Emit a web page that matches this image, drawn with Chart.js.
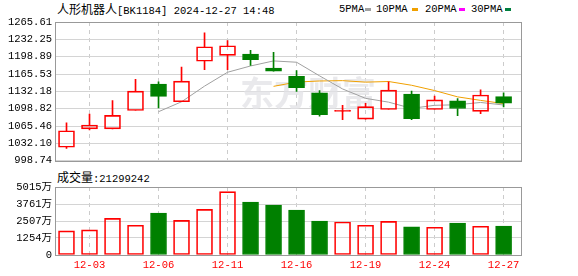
<!DOCTYPE html>
<html>
<head>
<meta charset="utf-8">
<script src="https://cdn.jsdelivr.net/npm/chart.js@4.4.1/dist/chart.umd.min.js"></script>
<style>
  body { margin:0; width:578px; height:276px; background:#fff; position:relative; overflow:hidden;
         font-family:"Liberation Mono","Noto Sans CJK SC",monospace; color:#000; }
  .txt { position:absolute; white-space:nowrap; font-size:10.5px; line-height:14px; }
  .cjk { font-family:"Noto Sans CJK SC"; font-size:12px; }
  .sw { position:absolute; width:6px; height:3px; top:8px; }
  #kline { position:absolute; left:0; top:0; }
  #vol { position:absolute; left:0; top:170px; }
</style>
</head>
<body>
<div class="txt" style="left:57px; top:2px;"><span class="cjk">人形机器人</span>[BK1184] 2024-12-27 14:48</div>
<div class="txt" style="left:339px; top:2px;">5PMA</div><div class="sw" style="left:365px; background:#a0a0a0;"></div>
<div class="txt" style="left:376px; top:2px;">10PMA</div><div class="sw" style="left:412px; background:#f0a000;"></div>
<div class="txt" style="left:425px; top:2px;">20PMA</div><div class="sw" style="left:459px; background:#ff00ff;"></div>
<div class="txt" style="left:471px; top:2px;">30PMA</div><div class="sw" style="left:505px; background:#007f3f;"></div>
<div class="txt" style="left:57px; top:170px;"><span class="cjk">成交量</span>:21299242</div>
<canvas id="kline" width="578" height="170"></canvas>
<canvas id="vol" width="578" height="106"></canvas>
<script>
const dates = ['12-02','12-03','12-04','12-05','12-06','12-09','12-10','12-11','12-12','12-13',
               '12-16','12-17','12-18','12-19','12-20','12-23','12-24','12-25','12-26','12-27'];
const openP  = [1024.7, 1060.1, 1060.1, 1095.4, 1146.1, 1112.1, 1190.1, 1201.3, 1203.7, 1177.1,
                1161.0, 1129.4, 1093.5, 1078.6, 1097.2, 1127.0, 1097.2, 1114.0, 1093.5, 1121.9];
const closeP = [1056.3, 1067.5, 1086.1, 1132.5, 1122.5, 1151.7, 1218.0, 1219.9, 1193.1, 1170.8,
                1139.2, 1087.2, 1093.5, 1102.8, 1134.4, 1079.8, 1115.8, 1099.1, 1125.1, 1109.5];
const highP  = [1071.8, 1088.5, 1114.5, 1155.4, 1150.4, 1179.0, 1244.6, 1229.7, 1211.2, 1207.4,
                1172.1, 1133.7, 1105.2, 1108.9, 1150.4, 1132.6, 1123.2, 1118.2, 1135.0, 1129.4];
const lowP   = [1022.2, 1058.2, 1060.1, 1095.4, 1100.2, 1112.1, 1174.0, 1174.0, 1182.0, 1170.8,
                1131.8, 1084.2, 1077.9, 1078.6, 1097.2, 1077.9, 1097.2, 1085.3, 1089.1, 1102.1];
const ma5  = [null, null, null, null, 1093.0, 1112.1, 1142.2, 1168.9, 1181.0, 1190.7,
              1188.2, 1162.0, 1136.8, 1118.7, 1111.4, 1099.5, 1105.3, 1106.4, 1110.8, 1105.9];
const ma10 = [null, null, null, null, null, null, null, null, null, 1141.8,
              1150.1, 1152.1, 1152.8, 1149.9, 1151.1, 1143.9, 1133.7, 1121.6, 1114.8, 1108.6];
const ma20 = [null, null, null, null, null, null, null, null, null, null,
              null, null, null, null, null, null, null, null, null, 1125.2];
// 成交量, 单位: 万
const volume = [1776, 1849, 2705, 2193, 3092, 2558, 3363, 4678, 3896, 3677,
                3311, 2507, 2434, 2193, 2485, 2069, 2047, 2361, 2120, 2130];
const priceTicks = [998.74, 1032.10, 1065.46, 1098.82, 1132.18, 1165.53, 1198.89, 1232.25, 1265.61];
const volTicks = [0, 1254, 2507, 3761, 5015];
const labelIdx = [1, 4, 7, 10, 13, 16, 19];

const RED = '#ff0000', GREEN = '#008000', CLEAR = 'rgba(255,255,255,0)';
const up = dates.map((d, i) => closeP[i] >= openP[i]);
const lineCol = up.map(u => u ? RED : GREEN);
// flat candle (doji) gets a solid red bar so the 1px body shows
const bodyFill = dates.map((d, i) => closeP[i] > openP[i] ? CLEAR : (closeP[i] === openP[i] ? RED : GREEN));
const volFill = up.map(u => u ? CLEAR : GREEN);
const tickFont = { family: '"Liberation Mono", "Noto Sans CJK SC", monospace', size: 10.5 };

const boxPlugin = {
    id: 'box',
    afterDraw(chart) {
        const { ctx, chartArea: a } = chart;
        ctx.save();
        ctx.strokeStyle = '#999999';
        ctx.lineWidth = 1;
        ctx.strokeRect(Math.round(a.left) + 0.5, Math.round(a.top) + 0.5,
                       Math.round(a.right - a.left) - 1, Math.round(a.bottom - a.top));
        ctx.restore();
    }
};

const watermark = {
    id: 'watermark',
    beforeDatasetsDraw(chart) {
        const ctx = chart.ctx;
        ctx.save();
        ctx.fillStyle = 'rgba(225,225,230,0.75)';
        ctx.font = 'bold 34px "Noto Sans CJK SC"';
        ctx.textBaseline = 'middle';
        ctx.fillText('东方财富', 240, 93);
        ctx.restore();
    }
};

function xAxis(showLabels) {
    return {
        type: 'linear', min: -0.5, max: 19.8, offset: false,
        afterBuildTicks: s => { s.ticks = labelIdx.map(v => ({ value: v })); },
        afterFit: s => { s.height = showLabels ? 21 : 0; },
        grid: { color: '#cccccc', drawTicks: false, offset: false },
        border: { display: false, dash: [4, 4] },
        ticks: { display: showLabels, color: RED, padding: 4, font: tickFont, maxRotation: 0, autoSkip: false,
                 callback: v => dates[v] }
    };
}

new Chart(document.getElementById('kline'), {
    type: 'bar',
    data: {
        datasets: [
            { type: 'line', label: '5PMA', data: ma5.map((v, i) => ({ x: i, y: v })),
              borderColor: '#a0a0a0', borderWidth: 1, pointRadius: 0, order: 3 },
            { type: 'line', label: '10PMA', data: ma10.map((v, i) => ({ x: i, y: v })),
              borderColor: '#f0a000', borderWidth: 1, pointRadius: 0, order: 3 },
            { type: 'line', label: '20PMA', data: ma20.map((v, i) => ({ x: i, y: v })),
              borderColor: '#ff00ff', borderWidth: 1, pointRadius: 0, order: 3 },
            { label: 'body', data: dates.map((d, i) => ({ x: i, y: [openP[i], closeP[i]] })),
              backgroundColor: bodyFill, borderColor: lineCol, borderWidth: 1, borderSkipped: false,
              barThickness: 16, grouped: false, minBarLength: 1, order: 1 },
            { label: 'upper', data: dates.map((d, i) => ({ x: i, y: [Math.max(openP[i], closeP[i]), highP[i]] })),
              backgroundColor: lineCol, borderWidth: 0, barThickness: 1, grouped: false, order: 2 },
            { label: 'lower', data: dates.map((d, i) => ({ x: i, y: [lowP[i], Math.min(openP[i], closeP[i])] })),
              backgroundColor: lineCol, borderWidth: 0, barThickness: 1, grouped: false, order: 2 }
        ]
    },
    plugins: [watermark, boxPlugin],
    options: {
        responsive: false, animation: false, devicePixelRatio: 1,
        layout: { padding: { top: 22, right: 56, bottom: 5, left: 0 } },
        plugins: { legend: { display: false }, tooltip: { enabled: false } },
        scales: {
            x: xAxis(false),
            y: {
                type: 'linear', min: 998.74, max: 1265.61,
                afterBuildTicks: s => { s.ticks = priceTicks.map(v => ({ value: v })); },
                afterFit: s => { s.width = 55; },
                grid: { color: '#d4d4d4', drawTicks: false },
                border: { display: false },
                ticks: { color: '#000', padding: 3, font: tickFont, autoSkip: false, callback: v => v.toFixed(2) }
            }
        }
    }
});

new Chart(document.getElementById('vol'), {
    type: 'bar',
    data: {
        datasets: [{
            label: '成交量', data: volume.map((v, i) => ({ x: i, y: v })),
            backgroundColor: volFill, borderColor: lineCol, borderWidth: 1, borderSkipped: false,
            barThickness: 16, grouped: false
        }]
    },
    plugins: [boxPlugin],
    options: {
        responsive: false, animation: false, devicePixelRatio: 1,
        layout: { padding: { top: 17, right: 56, bottom: 0, left: 0 } },
        plugins: { legend: { display: false }, tooltip: { enabled: false } },
        scales: {
            x: xAxis(true),
            y: {
                type: 'linear', min: 0, max: 5015,
                afterBuildTicks: s => { s.ticks = volTicks.map(v => ({ value: v })); },
                afterFit: s => { s.width = 55; },
                grid: { color: '#d4d4d4', drawTicks: false },
                border: { display: false },
                ticks: { color: '#000', padding: 3, font: tickFont, autoSkip: false,
                         callback: v => v === 0 ? '0' : v + '万' }
            }
        }
    }
});
</script>
</body>
</html>
